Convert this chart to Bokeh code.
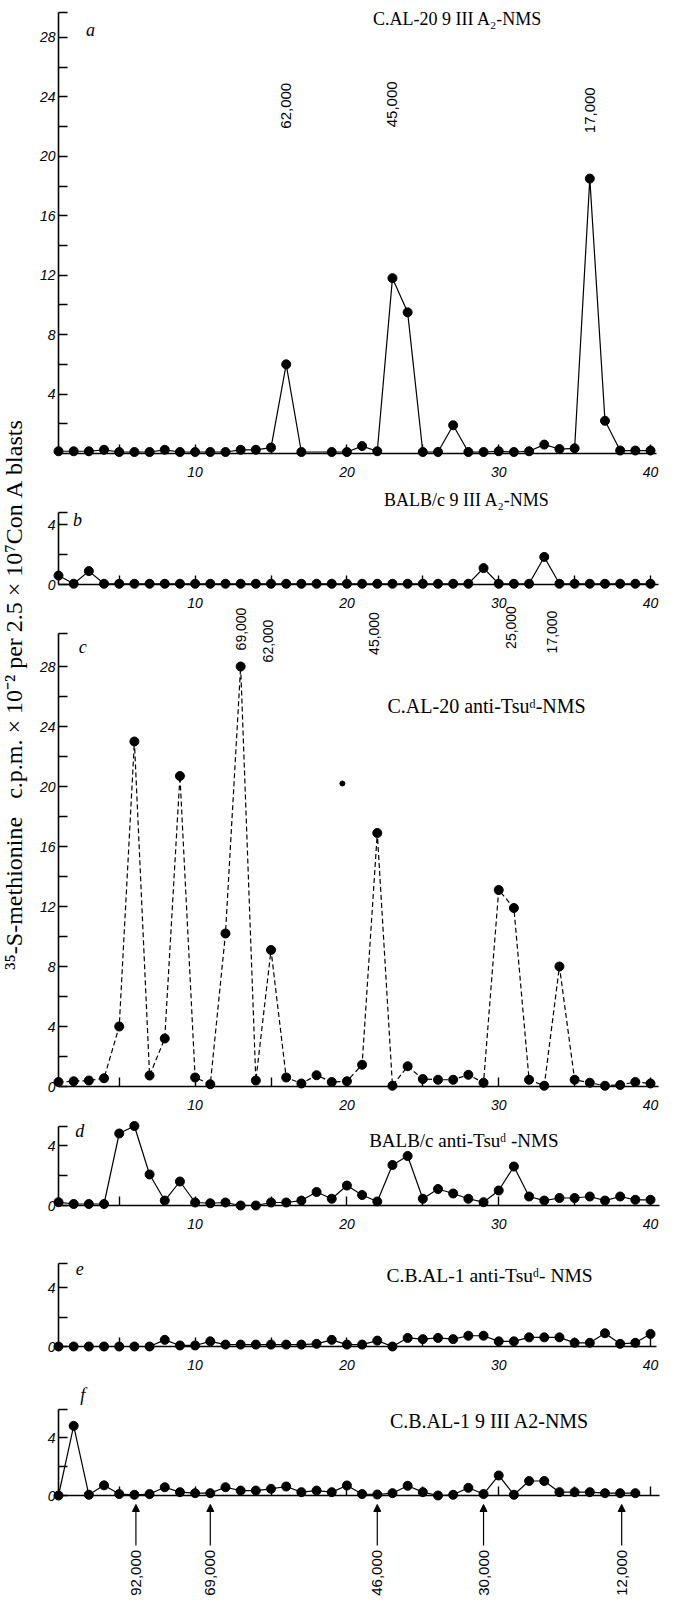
import math
from bokeh.plotting import figure
from bokeh.models import Range1d, LinearAxis, FixedTicker, ColumnDataSource, Arrow, NormalHead, Grid
from bokeh.core.properties import value
from bokeh.embed import file_html
from bokeh.resources import INLINE

# ---------------- data (fraction number -> 35S-methionine c.p.m. x 10^-2) ----------------
fractions = [1, 2, 3, 4, 5, 6, 7, 8, 9, 10, 11, 12, 13, 14, 15, 16, 17, 18, 19, 20,
             21, 22, 23, 24, 25, 26, 27, 28, 29, 30, 31, 32, 33, 34, 35, 36, 37, 38, 39, 40]

a_fraction = [1, 2, 3, 4, 5, 6, 7, 8, 9, 10, 11, 12, 13, 14, 15, 16, 17, 19, 20,
              21, 22, 23, 24, 25, 26, 27, 28, 29, 30, 31, 32, 33, 34, 35, 36, 37, 38, 39, 40]
a_cpm = [0.15, 0.15, 0.15, 0.25, 0.1, 0.1, 0.1, 0.25, 0.1, 0.1, 0.1, 0.1, 0.25, 0.25, 0.4, 6.0, 0.1, 0.1, 0.1,
         0.5, 0.15, 11.8, 9.5, 0.1, 0.1, 1.9, 0.1, 0.1, 0.15, 0.1, 0.15, 0.6, 0.3, 0.35, 18.5, 2.2, 0.2, 0.2, 0.2]

b_cpm = [0.6, 0.05, 0.9, 0.05, 0.05, 0.05, 0.05, 0.05, 0.05, 0.05, 0.05, 0.05, 0.05, 0.05, 0.05, 0.05, 0.05, 0.05, 0.05, 0.05,
         0.05, 0.05, 0.05, 0.05, 0.05, 0.05, 0.05, 0.05, 1.1, 0.05, 0.05, 0.05, 1.85, 0.05, 0.05, 0.05, 0.05, 0.05, 0.05, 0.05]

c_cpm = [0.3, 0.35, 0.4, 0.55, 4.0, 23.0, 0.73, 3.2, 20.7, 0.6, 0.15, 10.2, 28.0, 0.4, 9.1, 0.6, 0.2, 0.75, 0.3, 0.35,
         1.45, 16.9, 0.05, 1.35, 0.5, 0.45, 0.45, 0.78, 0.25, 13.1, 11.9, 0.45, 0.05, 8.0, 0.45, 0.25, 0.05, 0.1, 0.3, 0.2]
c_stray_fraction = [19.7]
c_stray_cpm = [20.2]

d_cpm = [0.22, 0.1, 0.1, 0.1, 4.8, 5.3, 2.07, 0.33, 1.6, 0.2, 0.15, 0.2, 0.0, 0.0, 0.2, 0.2, 0.33, 0.9, 0.45, 1.33,
         0.7, 0.27, 2.7, 3.3, 0.45, 1.1, 0.8, 0.45, 0.22, 1.0, 2.6, 0.6, 0.33, 0.5, 0.5, 0.6, 0.33, 0.6, 0.38, 0.38]

e_cpm = [0.0, 0.0, 0.0, 0.0, 0.0, 0.0, 0.0, 0.45, 0.07, 0.07, 0.35, 0.13, 0.13, 0.13, 0.13, 0.13, 0.13, 0.18, 0.45, 0.13,
         0.13, 0.4, 0.0, 0.58, 0.5, 0.58, 0.5, 0.73, 0.73, 0.35, 0.35, 0.62, 0.62, 0.62, 0.25, 0.25, 0.9, 0.18, 0.25, 0.85]

f_fraction = [1, 2, 3, 4, 5, 6, 7, 8, 9, 10, 11, 12, 13, 14, 15, 16, 17, 18, 19, 20,
              21, 22, 23, 24, 25, 26, 27, 28, 29, 30, 31, 32, 33, 34, 35, 36, 37, 38, 39]
f_cpm = [0.0, 4.8, 0.05, 0.7, 0.1, 0.05, 0.1, 0.57, 0.23, 0.16, 0.16, 0.57, 0.34, 0.34, 0.46, 0.62, 0.23, 0.34, 0.23, 0.69,
         0.1, 0.07, 0.16, 0.67, 0.23, 0.0, 0.05, 0.53, 0.1, 1.38, 0.05, 1.0, 1.0, 0.23, 0.23, 0.23, 0.16, 0.16, 0.16]

# molecular-weight markers
a_mw_labels = ["62,000", "45,000", "17,000"]
a_mw_fraction = [16.0, 23.0, 36.0]
c_mw_labels = ["69,000", "62,000", "45,000", "25,000", "17,000"]
c_mw_fraction = [13.0, 14.8, 21.8, 30.8, 33.5]
f_marker_labels = ["92,000", "69,000", "46,000", "30,000", "12,000"]
f_marker_fraction = [6.1, 11.0, 22.0, 29.0, 38.1]

x_tick_labels = [10, 20, 30, 40]
x_minor_ticks = [5, 15, 25, 35]

panel_titles = {
    "a": "C.AL-20 9 III A\u2082-NMS",
    "b": "BALB/c 9 III A\u2082-NMS",
    "c": "C.AL-20 anti-Tsu\u1d48-NMS",
    "d": "BALB/c anti-Tsu\u1d48 -NMS",
    "e": "C.B.AL-1 anti-Tsu\u1d48- NMS",
    "f": "C.B.AL-1 9 III A2-NMS",
}
y_label = ("\u00b3\u2075-S-methionine\u00a0\u00a0\u00a0c.p.m.\u00a0\u00d7\u00a010\u207b\u00b2\u00a0per\u00a0"
           "2.5\u00a0\u00d7\u00a010\u2077Con\u00a0A\u00a0blasts")

# ---------------- layout (pixels / positions) ----------------
W, H = 670, 1600
AXIS_X_PX = 58
PX_PER_FRACTION = 15.18

PANELS = {
    "a": dict(base=453, k=14.86, top=29.7, ticks=[4, 8, 12, 16, 20, 24, 28],
              minor=[2, 6, 10, 14, 18, 22, 26, 29.7], xend=40.4, xlabels=True,
              title=(27.3, 29.27), title_size="18px", letter=(3.1, 28.5)),
    "b": dict(base=584, k=14.9, top=4.8, ticks=[0, 4], minor=[2, 4.8], xend=40.5, xlabels=True,
              title=(27.9, 5.64), title_size="18px", letter=(2.25, 4.3)),
    "c": dict(base=1086, k=15.0, top=30.2, ticks=[0, 4, 8, 12, 16, 20, 24, 28],
              minor=[2, 6, 10, 14, 18, 22, 26, 30.2], xend=40.5, xlabels=True,
              title=(29.2, 25.4), title_size="20px", letter=(2.6, 29.3)),
    "d": dict(base=1205, k=15.0, top=5.3, ticks=[0, 4], minor=[2, 5.3], xend=40.6, xlabels=True,
              title=(27.7, 4.33), title_size="19px", letter=(2.4, 5.0)),
    "e": dict(base=1346, k=14.75, top=5.6, ticks=[0, 4], minor=[2, 5.6], xend=40.4, xlabels=True,
              title=(29.4, 4.8), title_size="19.5px", letter=(2.4, 5.3)),
    "f": dict(base=1495, k=14.5, top=5.9, ticks=[0, 4], minor=[2, 5.9], xend=40.6, xlabels=False,
              title=(29.4, 5.17), title_size="20px", letter=(2.6, 6.9)),
}

x_start = 1 - AXIS_X_PX / PX_PER_FRACTION
x_range = Range1d(x_start, x_start + W / PX_PER_FRACTION)


def yr(cfg):
    return Range1d(-(H - cfg["base"]) / cfg["k"], cfg["base"] / cfg["k"])


p = figure(width=W, height=H, x_range=x_range, y_range=yr(PANELS["a"]),
           title=None, toolbar_location=None, output_backend="svg",
           x_axis_location=None, y_axis_location=None)
p.min_border_left = 0
p.min_border_right = 0
p.min_border_top = 0
p.min_border_bottom = 0
p.outline_line_color = None
p.background_fill_color = "white"
p.border_fill_color = "white"
p.center = [c for c in p.center if not isinstance(c, Grid)]
p.extra_y_ranges = {n: yr(c) for n, c in PANELS.items() if n != "a"}

SERIF = "Liberation Serif"
SANS = "Liberation Sans"


def style_axis(ax, labels=True):
    ax.axis_line_color = "black"
    ax.axis_line_width = 1.6
    ax.major_tick_in = 9
    ax.major_tick_out = 0
    ax.minor_tick_in = 9
    ax.minor_tick_out = 0
    ax.major_tick_line_width = 1.4
    ax.minor_tick_line_width = 1.4
    ax.major_tick_line_color = "black"
    ax.minor_tick_line_color = "black"
    ax.major_label_text_font = SANS
    ax.major_label_text_font_style = "italic"
    ax.major_label_text_font_size = "14px"
    ax.major_label_text_color = "black" if labels else None


series = {
    "a": (a_fraction, a_cpm, None),
    "b": (fractions, b_cpm, None),
    "c": (fractions, c_cpm, "5 3"),
    "d": (fractions, d_cpm, None),
    "e": (fractions, e_cpm, None),
    "f": (f_fraction, f_cpm, None),
}

for name, cfg in PANELS.items():
    rn = "default" if name == "a" else name
    yax = LinearAxis(y_range_name=rn, fixed_location=1, bounds=(0, cfg["top"]),
                     ticker=FixedTicker(ticks=cfg["ticks"], minor_ticks=cfg["minor"]))
    style_axis(yax)
    yax.major_label_standoff = 3
    p.add_layout(yax, "left")

    xax = LinearAxis(y_range_name=rn, fixed_location=0, bounds=(1, cfg["xend"]),
                     ticker=FixedTicker(ticks=x_tick_labels, minor_ticks=x_minor_ticks))
    style_axis(xax, labels=cfg["xlabels"])
    xax.major_label_standoff = 13
    p.add_layout(xax, "below")

    xs, ys, dash = series[name]
    p.line(xs, ys, y_range_name=rn, line_color="black", line_width=1.2,
           line_dash=dash if dash else "solid")
    p.scatter(xs, ys, y_range_name=rn, size=9, fill_color="black", line_color="black")

    tx, ty = cfg["title"]
    p.text(x=[tx], y=[ty], text=[panel_titles[name]], y_range_name=rn,
           text_font=value(SERIF), text_font_size=cfg["title_size"], text_align="center",
           text_baseline="middle", text_color="black")
    lx, ly = cfg["letter"]
    p.text(x=[lx], y=[ly], text=[name], y_range_name=rn,
           text_font=value(SERIF), text_font_style="italic", text_font_size="18px",
           text_align="center", text_baseline="middle", text_color="black")

# stray dot in panel c
p.scatter(c_stray_fraction, c_stray_cpm, y_range_name="c", size=5, fill_color="black", line_color="black")

# molecular weight labels
p.text(x=a_mw_fraction, y=[23.4, 23.5, 23.1], text=a_mw_labels, angle=math.pi / 2,
       text_font=value(SANS), text_font_size="15px", text_align="center", text_baseline="middle",
       text_color="black")
p.text(x=c_mw_fraction, y=[30.5, 29.7, 30.2, 30.6, 30.3], text=c_mw_labels, angle=math.pi / 2,
       y_range_name="c", text_font=value(SANS), text_font_size="14px", text_align="center",
       text_baseline="middle", text_color="black")

# arrows + marker labels under panel f
ARROW_TIP, ARROW_TAIL, LABEL_TOP = -0.62, -3.45, -3.75
arrow_src = ColumnDataSource(dict(x=f_marker_fraction,
                                  y0=[ARROW_TAIL] * len(f_marker_fraction),
                                  y1=[ARROW_TIP] * len(f_marker_fraction)))
p.add_layout(Arrow(end=NormalHead(size=7, fill_color="black", line_color="black", line_width=1),
                   x_start="x", y_start="y0", x_end="x", y_end="y1", source=arrow_src,
                   y_range_name="f", line_color="black", line_width=1.2))
p.text(x=f_marker_fraction, y=[LABEL_TOP] * len(f_marker_fraction), text=f_marker_labels,
       angle=math.pi / 2, y_range_name="f", text_font=value(SANS), text_font_size="15px",
       text_align="right", text_baseline="middle", text_color="black")

# shared y-axis label
p.text(x=[-1.9], y=[26.1], text=[y_label], angle=math.pi / 2, y_range_name="c",
       text_font=value(SERIF), text_font_size="24px", text_align="center",
       text_baseline="middle", text_color="black")

open("out.html", "w").write(file_html(p, INLINE))
